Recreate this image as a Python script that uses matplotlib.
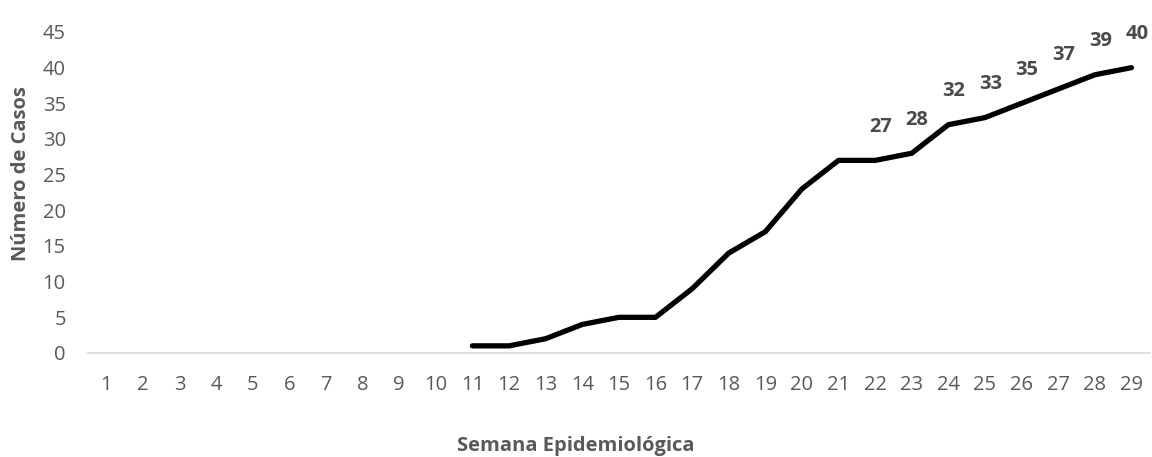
import matplotlib
matplotlib.use("Agg")
import matplotlib.pyplot as plt

weeks = list(range(1, 30))
data_weeks = list(range(11, 30))
cases = [1, 1, 2, 4, 5, 5, 9, 14, 17, 23, 27, 27, 28, 32, 33, 35, 37, 39, 40]
labeled_weeks = [22, 23, 24, 25, 26, 27, 28, 29]

plt.rcParams['font.family'] = ['Open Sans', 'DejaVu Sans']
grey = '#595959'

fig = plt.figure(figsize=(11.52, 4.57), dpi=100)
ax = fig.add_axes([0.0764, 0.2276, 0.9216, 0.7024])
ax.plot(data_weeks, cases, color='black', lw=3.8, solid_capstyle='round', solid_joinstyle='round')

for w, c in zip(data_weeks, cases):
    if w in labeled_weeks:
        ax.annotate(str(c), (w, c), xytext=(4, 17), textcoords='offset points',
                    ha='center', va='bottom', fontsize=14.5, fontweight='bold', color='#4a4a4a')

ax.set_xlim(0.5, 29.5)
ax.set_ylim(0, 45)
ax.set_xticks(weeks)
ax.set_xticklabels([str(w) for w in weeks])
ax.set_yticks(range(0, 50, 5))
ax.tick_params(axis='both', length=0, labelsize=14.5, labelcolor=grey)
ax.tick_params(axis='x', pad=16)
ax.tick_params(axis='y', pad=16)
for s in ['top', 'right', 'left']:
    ax.spines[s].set_visible(False)
ax.spines['bottom'].set_color('#d9d9d9')
ax.spines['bottom'].set_linewidth(1.2)

fig.text(0.5, 0.024, 'Semana Epidemiológica', ha='center', va='center',
         fontsize=14.5, fontweight='bold', color=grey)
fig.text(0.018, 0.621, 'Número de Casos', ha='center', va='center', rotation=90,
         fontsize=14.5, fontweight='bold', color=grey)

fig.savefig('out.png', dpi=100)
